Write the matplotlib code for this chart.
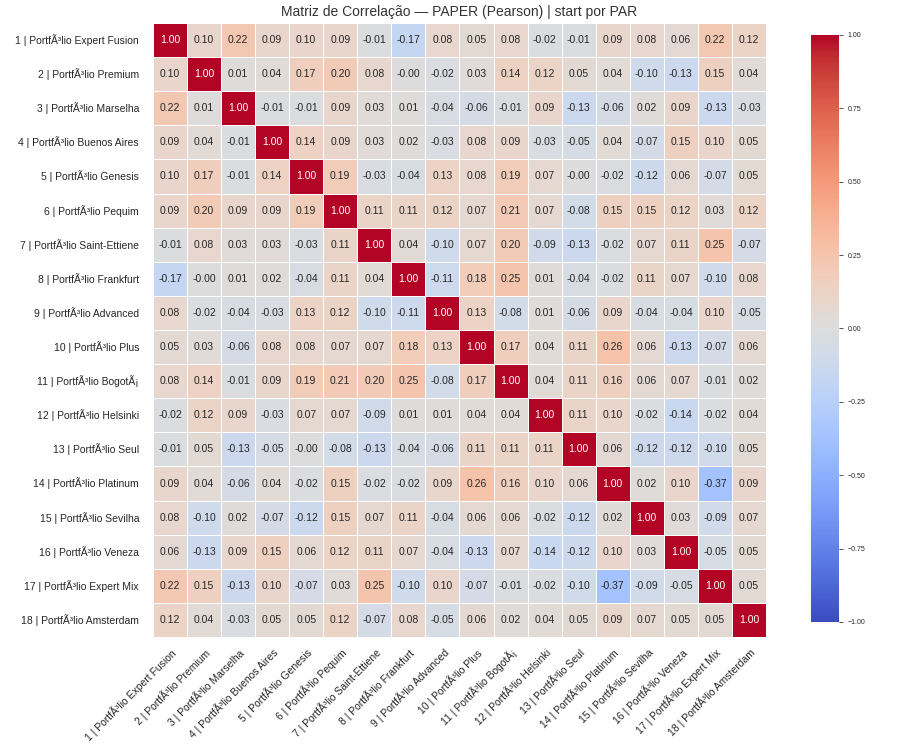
import numpy as np
import pandas as pd
import matplotlib
matplotlib.use("Agg")
import matplotlib.pyplot as plt
import seaborn as sns

names = ['Expert Fusion', 'Premium', 'Marselha', 'Buenos Aires', 'Genesis', 'Pequim',
         'Saint-Ettiene', 'Frankfurt', 'Advanced', 'Plus', 'BogotÃ¡', 'Helsinki',
         'Seul', 'Platinum', 'Sevilha', 'Veneza', 'Expert Mix', 'Amsterdam']
labels = ['{} | PortfÃ³lio {}'.format(i + 1, n) for i, n in enumerate(names)]

row01 = [1.00, 0.10, 0.22, 0.09, 0.10, 0.09, -0.01, -0.17, 0.08, 0.05, 0.08, -0.02, -0.01, 0.09, 0.08, 0.06, 0.22, 0.12]
row02 = [0.10, 1.00, 0.01, 0.04, 0.17, 0.20, 0.08, -0.00, -0.02, 0.03, 0.14, 0.12, 0.05, 0.04, -0.10, -0.13, 0.15, 0.04]
row03 = [0.22, 0.01, 1.00, -0.01, -0.01, 0.09, 0.03, 0.01, -0.04, -0.06, -0.01, 0.09, -0.13, -0.06, 0.02, 0.09, -0.13, -0.03]
row04 = [0.09, 0.04, -0.01, 1.00, 0.14, 0.09, 0.03, 0.02, -0.03, 0.08, 0.09, -0.03, -0.05, 0.04, -0.07, 0.15, 0.10, 0.05]
row05 = [0.10, 0.17, -0.01, 0.14, 1.00, 0.19, -0.03, -0.04, 0.13, 0.08, 0.19, 0.07, -0.00, -0.02, -0.12, 0.06, -0.07, 0.05]
row06 = [0.09, 0.20, 0.09, 0.09, 0.19, 1.00, 0.11, 0.11, 0.12, 0.07, 0.21, 0.07, -0.08, 0.15, 0.15, 0.12, 0.03, 0.12]
row07 = [-0.01, 0.08, 0.03, 0.03, -0.03, 0.11, 1.00, 0.04, -0.10, 0.07, 0.20, -0.09, -0.13, -0.02, 0.07, 0.11, 0.25, -0.07]
row08 = [-0.17, -0.00, 0.01, 0.02, -0.04, 0.11, 0.04, 1.00, -0.11, 0.18, 0.25, 0.01, -0.04, -0.02, 0.11, 0.07, -0.10, 0.08]
row09 = [0.08, -0.02, -0.04, -0.03, 0.13, 0.12, -0.10, -0.11, 1.00, 0.13, -0.08, 0.01, -0.06, 0.09, -0.04, -0.04, 0.10, -0.05]
row10 = [0.05, 0.03, -0.06, 0.08, 0.08, 0.07, 0.07, 0.18, 0.13, 1.00, 0.17, 0.04, 0.11, 0.26, 0.06, -0.13, -0.07, 0.06]
row11 = [0.08, 0.14, -0.01, 0.09, 0.19, 0.21, 0.20, 0.25, -0.08, 0.17, 1.00, 0.04, 0.11, 0.16, 0.06, 0.07, -0.01, 0.02]
row12 = [-0.02, 0.12, 0.09, -0.03, 0.07, 0.07, -0.09, 0.01, 0.01, 0.04, 0.04, 1.00, 0.11, 0.10, -0.02, -0.14, -0.02, 0.04]
row13 = [-0.01, 0.05, -0.13, -0.05, -0.00, -0.08, -0.13, -0.04, -0.06, 0.11, 0.11, 0.11, 1.00, 0.06, -0.12, -0.12, -0.10, 0.05]
row14 = [0.09, 0.04, -0.06, 0.04, -0.02, 0.15, -0.02, -0.02, 0.09, 0.26, 0.16, 0.10, 0.06, 1.00, 0.02, 0.10, -0.37, 0.09]
row15 = [0.08, -0.10, 0.02, -0.07, -0.12, 0.15, 0.07, 0.11, -0.04, 0.06, 0.06, -0.02, -0.12, 0.02, 1.00, 0.03, -0.09, 0.07]
row16 = [0.06, -0.13, 0.09, 0.15, 0.06, 0.12, 0.11, 0.07, -0.04, -0.13, 0.07, -0.14, -0.12, 0.10, 0.03, 1.00, -0.05, 0.05]
row17 = [0.22, 0.15, -0.13, 0.10, -0.07, 0.03, 0.25, -0.10, 0.10, -0.07, -0.01, -0.02, -0.10, -0.37, -0.09, -0.05, 1.00, 0.05]
row18 = [0.12, 0.04, -0.03, 0.05, 0.05, 0.12, -0.07, 0.08, -0.05, 0.06, 0.02, 0.04, 0.05, 0.09, 0.07, 0.05, 0.05, 1.00]

rows = [row01, row02, row03, row04, row05, row06, row07, row08, row09,
        row10, row11, row12, row13, row14, row15, row16, row17, row18]
corr = pd.DataFrame(np.array(rows), index=labels, columns=labels)

sns.set_theme(style='white')
plt.rcParams['font.family'] = ['Liberation Sans', 'DejaVu Sans']

fig = plt.figure(figsize=(9.21, 7.44), dpi=100)
ax = fig.add_axes([0.1661, 0.1438, 0.6656, 0.8253])
cax = fig.add_axes([0.8805, 0.164, 0.030, 0.789])

sns.heatmap(corr, ax=ax, cbar_ax=cax, cmap='coolwarm', vmin=-1, vmax=1,
            annot=True, fmt='.2f', annot_kws={'size': 7.5},
            linewidths=0.5, linecolor='white')

ax.set_title('Matriz de Correlação — PAPER (Pearson) | start por PAR',
             fontsize=10, color='#333333', pad=5)
ax.set_xticklabels(labels, rotation=45, ha='right', rotation_mode='anchor', fontsize=7.5)
ax.set_yticklabels(labels, rotation=0, fontsize=7.5)
ax.tick_params(axis='y', length=0, pad=10)
ax.tick_params(axis='x', length=0, pad=7)

cax.tick_params(labelsize=5, length=3, width=0.6, color='#333333')
cax.yaxis.set_ticks([-1, -0.75, -0.5, -0.25, 0, 0.25, 0.5, 0.75, 1])
cax.yaxis.set_ticklabels(['−1.00', '−0.75', '−0.50', '−0.25', '0.00', '0.25', '0.50', '0.75', '1.00'])

plt.savefig('out.png', dpi=100)
